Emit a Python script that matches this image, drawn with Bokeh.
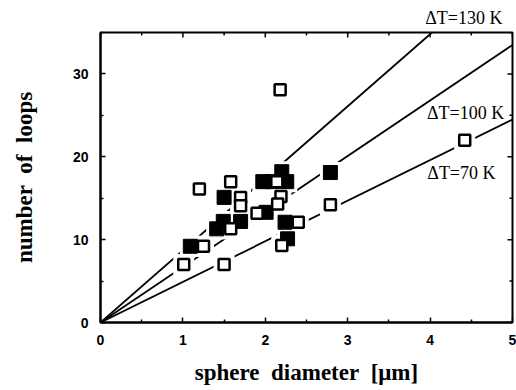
from bokeh.plotting import figure
from bokeh.models import FixedTicker, Label
from bokeh.embed import file_html
from bokeh.resources import INLINE

# ---- data ----
open_x = [1.20, 1.58, 1.70, 1.70, 2.18, 2.14, 2.19, 2.15, 1.90, 2.40, 1.58, 1.25, 1.01, 1.50, 2.20, 2.79, 4.42]
open_y = [16.1, 17.0, 15.1, 14.1, 28.1, 17.0, 15.2, 14.3, 13.2, 12.1, 11.3, 9.2, 7.0, 7.0, 9.3, 14.2, 22.0]

filled_x = [1.09, 1.50, 1.49, 1.41, 1.70, 2.01, 1.97, 2.08, 2.20, 2.26, 2.24, 2.27, 2.79]
filled_y = [9.2, 15.1, 12.2, 11.3, 12.2, 13.3, 17.0, 17.0, 18.2, 17.0, 12.1, 10.1, 18.1]

fit_labels = ["\u0394T=130 K", "\u0394T=100 K", "\u0394T=70 K"]
fit_slopes = [8.7, 6.7, 4.9]

x_ticks = [0, 1, 2, 3, 4, 5]
x_minor = [0.5, 1.5, 2.5, 3.5, 4.5]
y_ticks = [0, 10, 20, 30]
y_minor = [5, 15, 25, 35]

X_MAX, Y_MAX = 5, 35
NB = "\u00a0"

label_font = "Liberation Serif"
tick_font = "Liberation Sans"

p = figure(width=516, height=390, x_range=(0, X_MAX), y_range=(0, Y_MAX),
           output_backend="svg", toolbar_location=None,
           min_border_left=100, min_border_right=4, min_border_top=32, min_border_bottom=68)
p.background_fill_color = "white"
p.border_fill_color = "white"
p.xgrid.visible = False
p.ygrid.visible = False
p.outline_line_color = "black"
p.outline_line_width = 2

# the top-right line label sits above the frame
p.title.text = fit_labels[0]
p.title.align = "right"
p.title.offset = 10
p.title.text_font = label_font
p.title.text_font_style = "normal"
p.title.text_font_size = "18px"
p.title.text_color = "black"

for ax in p.xaxis:
    ax.ticker = FixedTicker(ticks=x_ticks, minor_ticks=x_minor)
    ax.axis_label = "sphere" + NB + NB + "diameter" + NB + NB + "[\u03bcm]"
for ax in p.yaxis:
    ax.ticker = FixedTicker(ticks=y_ticks, minor_ticks=y_minor)
    ax.axis_label = "number" + NB + NB + "of" + NB + NB + "loops"

for ax in list(p.xaxis) + list(p.yaxis):
    ax.axis_line_color = "black"
    ax.axis_line_width = 2
    ax.major_tick_in = 5
    ax.major_tick_out = 0
    ax.minor_tick_in = 3
    ax.minor_tick_out = 0
    ax.major_tick_line_width = 1.5
    ax.minor_tick_line_width = 1.5
    ax.major_label_text_font = tick_font
    ax.major_label_text_font_style = "bold"
    ax.major_label_text_font_size = "14px"
    ax.major_label_text_color = "black"
    ax.axis_label_text_font = label_font
    ax.axis_label_text_font_style = "bold"
    ax.axis_label_text_font_size = "23px"
    ax.axis_label_text_color = "black"
    ax.major_label_standoff = 12

p.xaxis.axis_label_standoff = 12
p.yaxis.axis_label_standoff = 33

# fit lines through the origin, clipped at the frame
for s in fit_slopes:
    x_end = min(X_MAX, Y_MAX / s)
    p.line([0, x_end], [0, s * x_end], line_color="black", line_width=1.8)

# white halos that break the lines around markers
all_x = open_x + filled_x
all_y = open_y + filled_y
p.scatter(all_x, all_y, marker="square", size=21, fill_color="white", line_color=None)

p.scatter(filled_x, filled_y, marker="square", size=14, fill_color="black",
          line_color="black", line_width=1)
p.scatter(open_x, open_y, marker="square", size=11, fill_color="white",
          line_color="black", line_width=2.5)

# mirrored inward ticks on the top and right frame edges (half of each dash is clipped)
p.scatter(x_ticks, [Y_MAX] * len(x_ticks), marker="dash", angle=1.5708, size=10,
          line_color="black", line_width=1.5)
p.scatter(x_minor, [Y_MAX] * len(x_minor), marker="dash", angle=1.5708, size=6,
          line_color="black", line_width=1.5)
p.scatter([X_MAX] * len(y_ticks), y_ticks, marker="dash", size=10,
          line_color="black", line_width=1.5)
p.scatter([X_MAX] * len(y_minor), y_minor, marker="dash", size=6,
          line_color="black", line_width=1.5)

# in-frame line labels
label_pos = [(4.43, 25.3), (4.38, 18.0)]
for txt, (lx, ly) in zip(fit_labels[1:], label_pos):
    p.add_layout(Label(x=lx, y=ly, text=txt, text_align="center", text_baseline="middle",
                       text_font=label_font, text_font_size="18px", text_color="black"))

open("out.html", "w").write(file_html(p, INLINE))
